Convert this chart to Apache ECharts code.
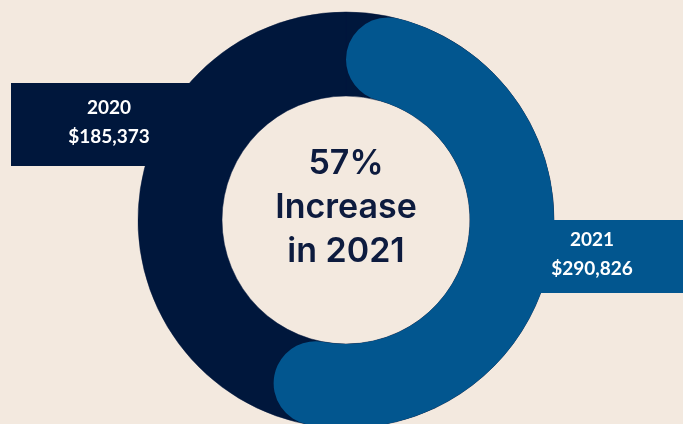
<!DOCTYPE html>
<html><head><meta charset="utf-8">
<script src="https://cdn.jsdelivr.net/npm/echarts@6/dist/echarts.min.js"></script>
<style>html,body{margin:0;padding:0;background:#f3e9df;overflow:hidden}#c{width:683px;height:424px}</style>
</head><body><div id="c"></div>
<script>
// ---- data ----
const categories = ['2020', '2021'];
const amounts = [185373, 290826];
const ringShares = [43, 57];          // share of the ring drawn in each colour (blue arc = 57%)
const centerLines = ['57%', 'Increase', 'in 2021'];

// ---- styling ----
const colors = ['#00173c', '#02568f'];
const bg = '#f3e9df';
const labelBoxes = [
  { x: 113, y: 83, padding: [10, 31, 15, 23], width: 150 },
  { x: 610, y: 220, padding: [5, 43, 10, 7], width: 110 }
];
const fmt = v => '$' + v.toLocaleString('en-US');

const chart = echarts.init(document.getElementById('c'), null, { renderer: 'canvas' });

// dark ring underneath (both shares drawn in dark)
const ringData = ringShares.map((v, i) => ({
  name: categories[i], value: v,
  itemStyle: { color: colors[0], borderColor: colors[0], borderWidth: 0.5 }
}));

// blue arc on top, starting at 12 o'clock, order: 2021 then 2020
const order = [1, 0];
const arcData = order.map(i => ({
  name: categories[i],
  value: ringShares[i],
  itemStyle: i === 1 ? { color: colors[1], borderRadius: 42 } : { color: 'rgba(0,0,0,0)' },
  label: {
    backgroundColor: colors[i],
    padding: labelBoxes[i].padding,
    width: labelBoxes[i].width
  }
}));

chart.setOption({
  backgroundColor: bg,
  animation: false,
  series: [
    {
      type: 'pie', silent: true, z: 1,
      center: [346, 220], radius: [124, 208],
      startAngle: 90, clockwise: true,
      label: { show: false }, labelLine: { show: false },
      data: ringData
    },
    {
      type: 'pie', silent: true, z: 2,
      center: [346, 220], radius: [124, 208],
      startAngle: 90, clockwise: true,
      avoidLabelOverlap: false,
      labelLine: { show: false },
      label: {
        show: true,
        color: '#ffffff',
        fontFamily: 'Lato',
        fontWeight: 'bold',
        fontSize: 19,
        lineHeight: 29,
        formatter: p => {
          const i = categories.indexOf(p.name);
          return categories[i] + '\n' + fmt(amounts[i]);
        }
      },
      labelLayout: p => {
        const i = order[p.dataIndex];
        return { x: labelBoxes[i].x, y: labelBoxes[i].y, align: 'center', verticalAlign: 'top' };
      },
      data: arcData
    }
  ],
  graphic: [{
    type: 'text', x: 346, y: 208, z: 10,
    style: {
      text: centerLines.join('\n'),
      align: 'center', verticalAlign: 'middle',
      fontFamily: 'Inter', fontWeight: 600, fontSize: 34, lineHeight: 44,
      fill: '#0d1b3e'
    }
  }]
});
</script>
</body></html>
